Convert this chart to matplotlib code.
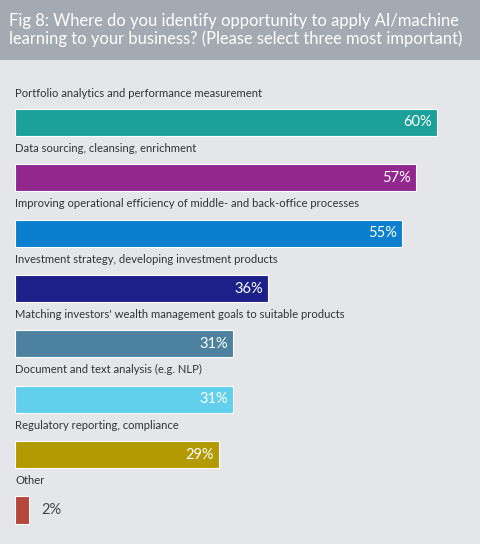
import matplotlib
matplotlib.use("Agg")
import matplotlib.pyplot as plt
import numpy as np

plt.rcParams['font.family'] = ['Lato', 'DejaVu Sans']

# data
categories = [
    "Portfolio analytics and performance measurement",
    "Data sourcing, cleansing, enrichment",
    "Improving operational efficiency of middle- and back-office processes",
    "Investment strategy, developing investment products",
    "Matching investors' wealth management goals to suitable products",
    "Document and text analysis (e.g. NLP)",
    "Regulatory reporting, compliance",
    "Other",
]
values = [60, 57, 55, 36, 31, 31, 29, 2]
colors = ["#1ba09a", "#92278f", "#0a7fcd", "#1b2189", "#4c829f", "#62d0ec", "#b39a00", "#b4463c"]

title = "Fig 8: Where do you identify opportunity to apply AI/machine\nlearning to your business? (Please select three most important)"

W, H = 480, 544
fig = plt.figure(figsize=(W / 100, H / 100), dpi=100)
fig.patch.set_facecolor("#e5e6e9")

# title band
band = fig.add_axes([0, 1 - 60 / H, 1, 60 / H])
band.set_facecolor("#a4aab1")
band.set_xticks([]); band.set_yticks([])
for s in band.spines.values():
    s.set_visible(False)
band.text(9 / W, 0.5, title, transform=band.transAxes, color="white",
          fontsize=11.9, va="center", ha="left", linespacing=1.15)

# bars
ax = fig.add_axes([15 / W, 0, 1 - 15 / W, 1 - 60 / H])
ax.set_facecolor("none")
y = np.arange(len(values))
ax.barh(y, values, height=0.49, color=colors, edgecolor="white", linewidth=0.8)
ax.set_xlim(0, (W - 15) / 7.03)
ax.set_ylim(7.614, -1.129)
ax.axis("off")

for i, (cat, v) in enumerate(zip(categories, values)):
    ax.text(0, i - 0.53, cat, fontsize=8.15, color="#333333", va="center", ha="left")
    if v > 10:
        ax.text(v - 0.7, i, f"{v}%", fontsize=10.5, color="white", va="center", ha="right")
    else:
        ax.text(v + 1.7, i, f"{v}%", fontsize=10.5, color="#444444", va="center", ha="left")

fig.savefig("out.png", dpi=100, facecolor=fig.get_facecolor())
